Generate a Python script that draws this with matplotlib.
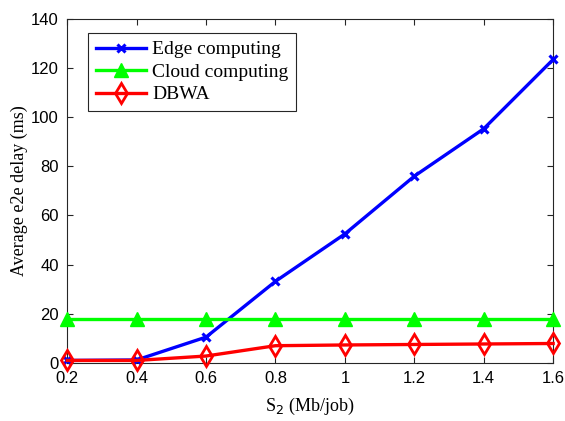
import matplotlib
matplotlib.use('Agg')
import matplotlib.pyplot as plt

x = [0.2, 0.4, 0.6, 0.8, 1.0, 1.2, 1.4, 1.6]
edge = [1.0, 1.2, 10.5, 33.2, 52.5, 76.0, 95.3, 123.5]
cloud = [18.0, 18.0, 18.0, 18.0, 18.0, 18.0, 18.0, 18.0]
dbwa = [1.0, 1.0, 2.8, 7.0, 7.3, 7.5, 7.7, 7.9]
xticks = [0.2, 0.4, 0.6, 0.8, 1.0, 1.2, 1.4, 1.6]
xticklabels = ['0.2', '0.4', '0.6', '0.8', '1', '1.2', '1.4', '1.6']

fig = plt.figure(figsize=(5.65, 4.21), dpi=100)
ax = fig.add_axes([0.119, 0.138, 0.860, 0.817])

ax.plot(x, edge, color='#0000ff', lw=2.4, marker='x', ms=6, mew=2.2,
        label='Edge computing', clip_on=False, zorder=3)
ax.plot(x, cloud, color='#00ff00', lw=2.4, marker='^', ms=10, mfc='#00ff00',
        label='Cloud computing', clip_on=False, zorder=3)
ax.plot(x, dbwa, color='#ff0000', lw=2.4, marker='d', ms=10, mfc='none', mew=2,
        label='DBWA', clip_on=False, zorder=4)

ax.set_xlim(0.2, 1.6)
ax.set_ylim(0, 140)
ax.set_xticks(xticks)
ax.set_xticklabels(xticklabels)
ax.set_yticks(range(0, 141, 20))
ax.tick_params(direction='in', labelsize=12, top=True, right=True, length=4,
               color='#262626', pad=6)
for lab in ax.get_xticklabels() + ax.get_yticklabels():
    lab.set_family('Liberation Sans')
for s in ax.spines.values():
    s.set_color('#262626')
    s.set_linewidth(0.8)

ax.set_xlabel('S$_2$ (Mb/job)', family='Liberation Serif', fontsize=13, labelpad=7)
ax.set_ylabel('Average e2e delay (ms)', family='Liberation Serif', fontsize=13, labelpad=2)

leg = ax.legend(loc='upper left', bbox_to_anchor=(0.043, 0.959), borderaxespad=0,
                prop={'family': 'Liberation Serif', 'size': 14},
                fancybox=False, edgecolor='#262626', framealpha=1,
                handlelength=2.6, borderpad=0.4, labelspacing=0.25, handletextpad=0.3)
leg.get_frame().set_linewidth(0.8)

fig.savefig('out.png', dpi=100)
